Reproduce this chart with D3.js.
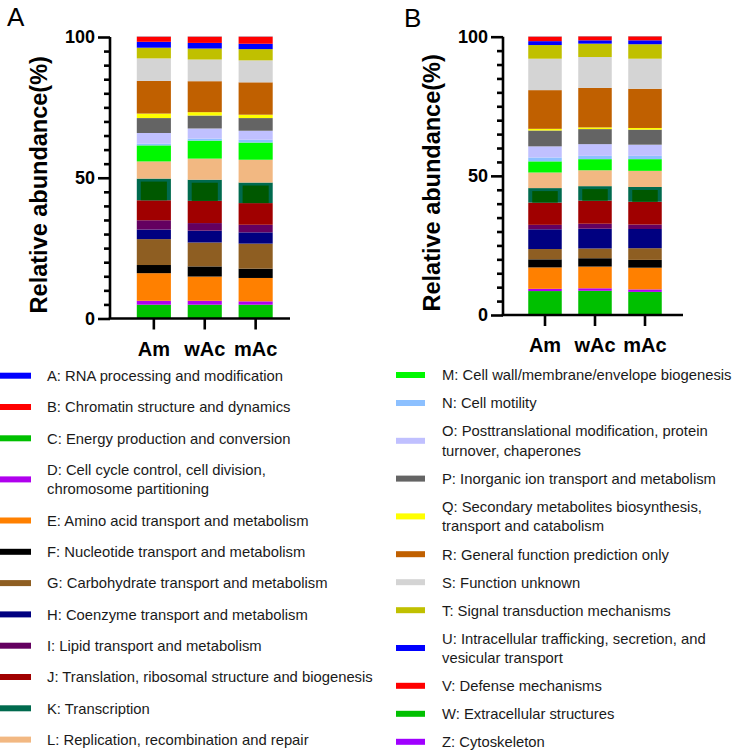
<!DOCTYPE html>
<html>
<head>
<meta charset="utf-8">
<script src="https://cdn.jsdelivr.net/npm/d3@7"></script>
<style>
  html, body { margin: 0; padding: 0; background: #fff; }
  svg { display: block; }
  text { font-family: "Liberation Sans", Arial, Helvetica, sans-serif; }
</style>
</head>
<body>
<svg id="chart" width="733" height="753"></svg>
<script>
// ---------- data ----------
const categories = ["Am", "wAc", "mAc"];
const cogCodes = ["A","B","C","D","E","F","G","H","I","J","K","L","M","N","O","P","Q","R","S","T","U","V","W","Z"];
const cogLabels = [
  ["A: RNA processing and modification"],
  ["B: Chromatin structure and dynamics"],
  ["C: Energy production and conversion"],
  ["D: Cell cycle control, cell division,", "chromosome partitioning"],
  ["E: Amino acid transport and metabolism"],
  ["F: Nucleotide transport and metabolism"],
  ["G: Carbohydrate transport and metabolism"],
  ["H: Coenzyme transport and metabolism"],
  ["I: Lipid transport and metabolism"],
  ["J: Translation, ribosomal structure and biogenesis"],
  ["K: Transcription"],
  ["L: Replication, recombination and repair"],
  ["M: Cell wall/membrane/envelope biogenesis"],
  ["N: Cell motility"],
  ["O: Posttranslational modification, protein", "turnover, chaperones"],
  ["P: Inorganic ion transport and metabolism"],
  ["Q: Secondary metabolites biosynthesis,", "transport and catabolism"],
  ["R: General function prediction only"],
  ["S: Function unknown"],
  ["T: Signal transduction mechanisms"],
  ["U: Intracellular trafficking, secretion, and", "vesicular transport"],
  ["V: Defense mechanisms"],
  ["W: Extracellular structures"],
  ["Z: Cytoskeleton"]
];
const cogColors = ["#0000ff","#ff0000","#00c000","#b000ee","#ff8000","#000000","#8e5e22","#000080",
  "#640060","#a00000","#006a4e","#f2b882","#00f800","#8cc0ff","#c0c0ff","#646464",
  "#ffff00","#c06000","#d4d4d4","#c0c000","#0000ff","#ff0000","#00c000","#a000ff"];
const kInnerColor = "#005800";

// Panel A values (%), order A..Z
const panelA_Am  = [0.05,0.05,4.8,1.4,9.8,2.9,9.2,3.4,3.3,7.1,7.7,6.1,5.7,0.6,3.8,5.3,1.6,11.6,8.0,3.8,2.1,1.8,0.05,0.05];
const panelA_wAc = [0.05,0.05,4.8,1.4,8.6,3.6,8.5,4.2,2.7,7.9,7.5,7.5,6.4,0.7,3.6,4.6,1.2,11.0,7.7,3.9,2.0,2.2,0.05,0.05];
const panelA_mAc = [0.05,0.05,4.8,1.2,8.3,3.3,8.9,4.0,2.7,7.7,7.3,8.1,6.1,1.0,3.2,4.5,1.2,11.5,7.8,4.0,1.9,2.5,0.05,0.05];
// Panel B values (%), order A..Z
const panelB_Am  = [0.05,0.05,8.5,0.8,7.7,2.9,3.7,7.1,1.6,8.0,5.2,5.6,4.0,1.4,4.0,5.7,0.6,13.9,11.3,4.9,1.4,1.6,0.05,0.05];
const panelB_wAc = [0.05,0.05,8.6,0.9,7.8,3.0,3.5,7.1,1.8,8.3,5.2,5.7,4.0,1.2,4.2,5.4,0.6,14.2,11.1,4.8,1.2,1.4,0.05,0.05];
const panelB_mAc = [0.05,0.05,8.2,0.9,7.8,2.8,4.2,6.9,1.6,8.2,5.3,5.8,4.2,1.2,4.0,5.4,0.6,14.1,10.8,5.2,1.4,1.4,0.05,0.05];

const yMajorTicks = [0, 50, 100];
const yMinorTicks = [5,10,15,20,25,30,35,40,45,55,60,65,70,75,80,85,90,95];

// ---------- layout ----------
const svg = d3.select("#chart");
const FONT = '"Liberation Sans", Arial, Helvetica, sans-serif';

const panels = [
  { letter: "A", rows: [panelA_Am, panelA_wAc, panelA_mAc],
    axisX: 110, xEnd: 290, xRange: [120, 289.5], yRange: [318.5, 37],
    titleX: 47, letterX: 7, letterY: 26 },
  { letter: "B", rows: [panelB_Am, panelB_wAc, panelB_mAc],
    axisX: 503, xEnd: 683, xRange: [511.75, 678.25], yRange: [315, 36.7],
    titleX: 440, letterX: 404, letterY: 27 }
];

panels.forEach(p => {
  const table = categories.map((c, i) => {
    const o = { cat: c };
    cogCodes.forEach((k, j) => o[k] = p.rows[i][j]);
    return o;
  });
  const stack = d3.stack().keys(cogCodes)(table);
  const x = d3.scaleBand().domain(categories).range(p.xRange).padding(0.33);
  const y = d3.scaleLinear().domain([0, 100]).range(p.yRange);
  const g = svg.append("g");

  stack.forEach((s, si) => {
    const code = cogCodes[si];
    s.forEach(d => {
      const x0 = x(d.data.cat), w = x.bandwidth();
      const top = y(d[1]), bot = y(d[0]);
      g.append("rect").attr("x", x0).attr("y", top)
        .attr("width", w).attr("height", Math.max(0, bot - top))
        .attr("fill", cogColors[si]);
      if (code === "K") {
        g.append("rect").attr("x", x0 + 4).attr("y", top + 3)
          .attr("width", w - 8).attr("height", Math.max(0, bot - top - 3))
          .attr("fill", kInnerColor);
      }
    });
  });

  // y axis
  const yAxis = d3.axisLeft(y).tickValues(yMajorTicks).tickSize(12).tickSizeOuter(0).tickPadding(3);
  const ya = g.append("g").attr("transform", `translate(${p.axisX},0)`).call(yAxis);
  ya.selectAll("path,line").attr("stroke", "#000").attr("stroke-width", 2.6);
  ya.select(".domain").attr("d", `M0,${p.yRange[1]}V${p.yRange[0]}`);
  ya.selectAll("text").attr("font-family", FONT).attr("font-weight", "bold")
    .attr("font-size", 18).attr("fill", "#000");
  const yMinor = d3.axisLeft(y).tickValues(yMinorTicks).tickSize(6).tickFormat("");
  const ym = g.append("g").attr("transform", `translate(${p.axisX},0)`).call(yMinor);
  ym.select(".domain").remove();
  ym.selectAll("line").attr("stroke", "#000").attr("stroke-width", 2.6);

  // x axis
  const xAxis = d3.axisBottom(x).tickSize(11).tickSizeOuter(0).tickPadding(12);
  const xa = g.append("g").attr("transform", `translate(0,${p.yRange[0]})`).call(xAxis);
  xa.select(".domain").attr("d", `M${p.axisX - 1.3},0H${p.xEnd}`);
  xa.selectAll("path,line").attr("stroke", "#000").attr("stroke-width", 2.6);
  xa.selectAll("text").attr("font-family", FONT).attr("font-weight", "bold")
    .attr("font-size", 20).attr("fill", "#000");

  // y title
  const yMid = (p.yRange[0] + p.yRange[1]) / 2 + 7;
  g.append("text")
    .attr("transform", `translate(${p.titleX},${yMid}) rotate(-90)`)
    .attr("text-anchor", "middle")
    .attr("font-family", FONT).attr("font-weight", "bold").attr("font-size", 23.5)
    .attr("fill", "#000")
    .text("Relative abundance(%)");

  // panel letter
  g.append("text").attr("x", p.letterX).attr("y", p.letterY)
    .attr("font-family", FONT).attr("font-size", 26).attr("fill", "#000")
    .text(p.letter);
});

// ---------- legend ----------
const legendCols = [
  { codes: cogCodes.slice(0, 12), swX: 0, swW: 31, textX: 47, y0: 375.7, step: 31.3, extra: 9.8 },
  { codes: cogCodes.slice(12), swX: 396, swW: 29, textX: 442, y0: 375, step: 28, extra: 9.8 }
];
const legend = svg.append("g");
legendCols.forEach((col, ci) => {
  let yc = col.y0;
  col.codes.forEach((code, i) => {
    const idx = cogCodes.indexOf(code);
    const lines = cogLabels[idx];
    if (i > 0) {
      const prevLines = cogLabels[cogCodes.indexOf(col.codes[i - 1])].length;
      yc += col.step + (prevLines > 1 ? col.extra : 0) + (lines.length > 1 ? col.extra : 0);
    }
    legend.append("rect").attr("x", col.swX).attr("y", yc - 3)
      .attr("width", col.swW).attr("height", 6).attr("fill", cogColors[idx]);
    const lh = 19.3;
    lines.forEach((ln, li) => {
      const ty = yc + (li - (lines.length - 1) / 2) * lh;
      legend.append("text").attr("x", col.textX).attr("y", ty).attr("dy", "0.36em")
        .attr("font-family", FONT).attr("font-size", 14.8).attr("fill", "#1a1a1a")
        .text(ln);
    });
  });
});
</script>
</body>
</html>
